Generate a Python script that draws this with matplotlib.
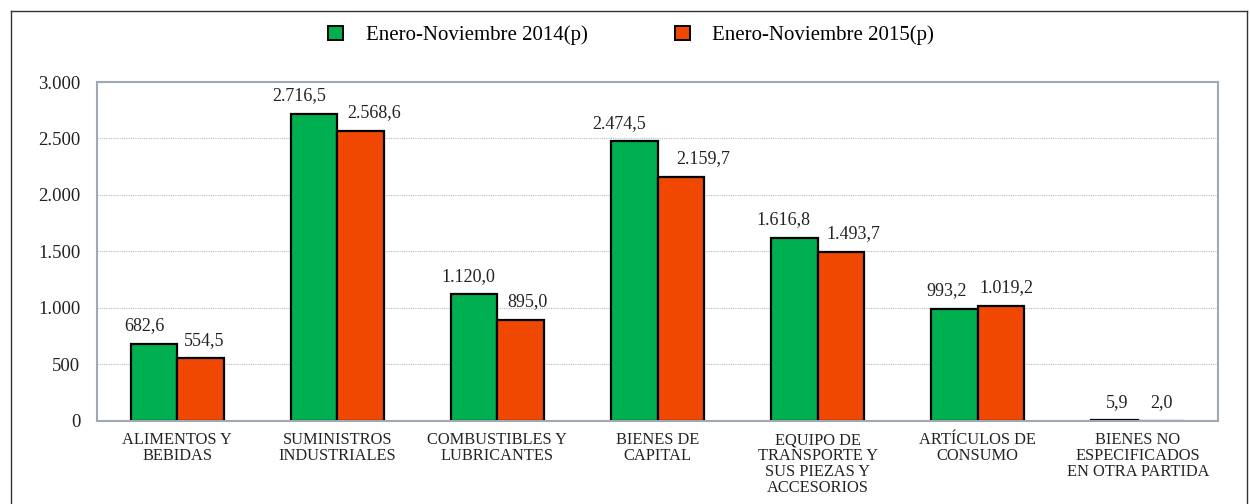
import matplotlib
matplotlib.use("Agg")
import matplotlib.pyplot as plt
import numpy as np
from matplotlib.lines import Line2D
from matplotlib.patches import Patch

categories = ["ALIMENTOS Y\nBEBIDAS", "SUMINISTROS\nINDUSTRIALES", "COMBUSTIBLES Y\nLUBRICANTES",
              "BIENES DE\nCAPITAL", "EQUIPO DE\nTRANSPORTE Y\nSUS PIEZAS Y\nACCESORIOS",
              "ARTÍCULOS DE\nCONSUMO", "BIENES NO\nESPECIFICADOS\nEN OTRA PARTIDA"]
v2014 = [682.6, 2716.5, 1120.0, 2474.5, 1616.8, 993.2, 5.9]
v2015 = [554.5, 2568.6, 895.0, 2159.7, 1493.7, 1019.2, 2.0]
series_labels = ["Enero-Noviembre 2014(p)", "Enero-Noviembre 2015(p)"]

# horizontal nudges of the value labels (points), as in the original
shift14 = [-7, -11, -4, -11, -8, -6, 1.5]
shift15 = [3, 10, 5, 16, 9, 4, 0]

GREEN = "#00b050"; RED = "#f04800"
plt.rcParams["font.family"] = "Liberation Serif"


def fmt(v):
    s = f"{v:,.1f}"
    return s.replace(",", "X").replace(".", ",").replace("X", ".")


fig = plt.figure(figsize=(12.5, 5.04), dpi=100)
ax = fig.add_axes([0.0776, 0.1647, 0.8968, 0.6726])

x = np.arange(len(categories))
w = 0.29
b1 = ax.bar(x - w / 2, v2014, w, color=GREEN, edgecolor="black", linewidth=1.6)
b2 = ax.bar(x + w / 2, v2015, w, color=RED, edgecolor="black", linewidth=1.6)
for bars, vals, shifts in ((b1, v2014, shift14), (b2, v2015, shift15)):
    for r, v, dx in zip(bars, vals, shifts):
        ax.annotate(fmt(v), (r.get_x() + r.get_width() / 2, v), xytext=(dx, 7),
                    textcoords="offset points", ha="center", va="bottom",
                    fontsize=13, color="#222")

ax.set_xlim(-0.5, len(categories) - 0.5)
ax.set_ylim(0, 3000)
ax.set_yticks(range(0, 3001, 500))
ax.set_yticklabels([fmt(t)[:-2] for t in range(0, 3001, 500)], fontsize=13.5, color="#222")
ax.set_xticks(x)
ax.set_xticklabels(categories, fontsize=11.8, linespacing=1.0, color="#222")
ax.tick_params(axis="x", length=0, pad=8)
ax.tick_params(axis="y", length=0, pad=12)
ax.yaxis.grid(True, color="#bbbbbb", linestyle=(0, (1, 1)), linewidth=0.8)
ax.set_axisbelow(True)
for s in ax.spines.values():
    s.set_color("#a0a8b4"); s.set_linewidth(1.5)

handles = [Patch(facecolor=GREEN, edgecolor="black", linewidth=1.4),
           Patch(facecolor=RED, edgecolor="black", linewidth=1.4)]
fig.legend(handles, series_labels, loc="center", bbox_to_anchor=(0.505, 0.93), ncol=2,
           frameon=False, fontsize=15, handlelength=0.7, handleheight=0.7, columnspacing=4.2,
           handletextpad=1.1)

# outer frame (bottom edge runs off the image)
top = 1 - 11 / 504
frame_kw = dict(color="#333333", linewidth=1.0, transform=fig.transFigure)
fig.add_artist(Line2D([0.009, 0.009], [0, top], **frame_kw))
fig.add_artist(Line2D([0.009, 0.9976], [top, top], **frame_kw))
fig.add_artist(Line2D([0.9976, 0.9976], [0, top], **frame_kw))

fig.savefig("out.png", dpi=100, facecolor="white")
